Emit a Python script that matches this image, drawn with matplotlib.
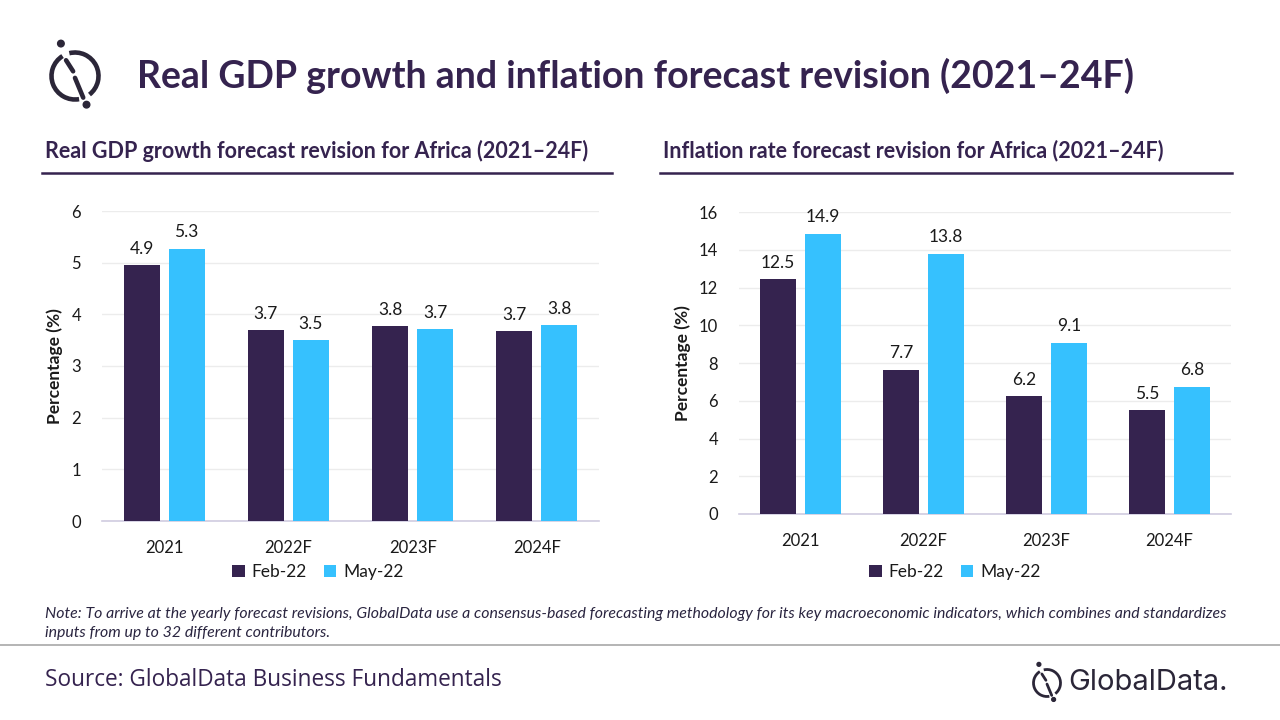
import numpy as np
import matplotlib.pyplot as plt
from matplotlib.patches import Arc, Circle
from matplotlib.lines import Line2D

plt.rcParams['font.family'] = ['Lato', 'DejaVu Sans']

categories = ['2021', '2022F', '2023F', '2024F']
series_names = ['Feb-22', 'May-22']
gdp_feb = [4.95, 3.69, 3.77, 3.67]
gdp_may = [5.27, 3.50, 3.71, 3.79]
gdp_labels_feb = ['4.9', '3.7', '3.8', '3.7']
gdp_labels_may = ['5.3', '3.5', '3.7', '3.8']
inf_feb = [12.45, 7.65, 6.25, 5.5]
inf_may = [14.85, 13.8, 9.07, 6.75]
inf_labels_feb = ['12.5', '7.7', '6.2', '5.5']
inf_labels_may = ['14.9', '13.8', '9.1', '6.8']

PURPLE = '#35234f'
BLUE = '#36c1fe'
TEXT = '#1a1a1a'
W, H = 1280, 720

fig = plt.figure(figsize=(12.8, 7.2), dpi=100)


def px(x0, y0, x1, y1):
    # pixel box (top-left origin) -> figure fraction rect
    return [x0 / W, 1 - y1 / H, (x1 - x0) / W, (y1 - y0) / H]


def fx(x):
    return x / W


def fy(y):
    return 1 - y / H


def bar_panel(rect, feb, may, lab_feb, lab_may, ymax, step, legend_x):
    ax = fig.add_axes(rect)
    x = np.arange(len(categories))
    w = 0.29
    ax.bar(x - 0.181, feb, w, color=PURPLE, label=series_names[0], zorder=3)
    ax.bar(x + 0.181, may, w, color=BLUE, label=series_names[1], zorder=3)
    for xi, v, t in zip(x, feb, lab_feb):
        ax.annotate(t, (xi - 0.181, v), xytext=(0, 6), textcoords='offset points',
                    ha='center', va='bottom', fontsize=12.5, color=TEXT)
    for xi, v, t in zip(x, may, lab_may):
        ax.annotate(t, (xi + 0.181, v), xytext=(0, 6), textcoords='offset points',
                    ha='center', va='bottom', fontsize=12.5, color=TEXT)
    ax.set_xlim(-0.5, len(categories) - 0.5)
    ax.set_ylim(0, ymax)
    ax.set_yticks(np.arange(0, ymax + step / 2, step))
    ax.set_xticks(x)
    ax.set_xticklabels(categories)
    ax.tick_params(axis='both', length=0, labelsize=12, colors=TEXT)
    ax.tick_params(axis='x', pad=14)
    ax.tick_params(axis='y', pad=15)
    ax.grid(axis='y', color='#ececec', linewidth=1, zorder=0)
    for s in ['top', 'right', 'left']:
        ax.spines[s].set_visible(False)
    ax.spines['bottom'].set_color('#d0cce0')
    ax.spines['bottom'].set_linewidth(1.2)
    ax.set_ylabel('Percentage (%)', fontsize=12.5, fontweight='bold', color=TEXT, labelpad=6)
    leg = ax.legend(loc='center', bbox_to_anchor=(fx(legend_x), fy(572)),
                    bbox_transform=fig.transFigure, ncol=2, frameon=False,
                    fontsize=12.5, handlelength=0.7, handleheight=0.7,
                    handletextpad=0.4, columnspacing=1.0)
    for t in leg.get_texts():
        t.set_color(TEXT)
    return ax


bar_panel(px(102, 211, 599, 521), gdp_feb, gdp_may, gdp_labels_feb, gdp_labels_may, 6, 1, 318)
bar_panel(px(739, 212, 1231, 514), inf_feb, inf_may, inf_labels_feb, inf_labels_may, 16, 2, 955)

# headings
fig.text(fx(137), fy(76), 'Real GDP growth and inflation forecast revision (2021\u201324F)',
         fontsize=27, fontweight='bold', color=PURPLE, va='center', ha='left')
fig.text(fx(45), fy(151), 'Real GDP growth forecast revision for Africa (2021\u201324F)',
         fontsize=15.5, fontweight='bold', color=PURPLE, va='center', ha='left')
fig.text(fx(663), fy(151), 'Inflation rate forecast revision for Africa (2021\u201324F)',
         fontsize=15.5, fontweight='bold', color=PURPLE, va='center', ha='left')
fig.add_artist(Line2D([fx(42), fx(612)], [fy(173), fy(173)], color=PURPLE, lw=1.8))
fig.add_artist(Line2D([fx(660), fx(1232)], [fy(173), fy(173)], color=PURPLE, lw=1.8))

# note and source
fig.text(fx(45), fy(614), 'Note: To arrive at the yearly forecast revisions, GlobalData use a consensus-based '
         'forecasting methodology for its key macroeconomic indicators, which combines and standardizes',
         fontsize=11.4, style='italic', color='#2a2540', va='center', ha='left')
fig.text(fx(45), fy(633), 'inputs from up to 32 different contributors.',
         fontsize=11.4, style='italic', color='#2a2540', va='center', ha='left')
fig.add_artist(Line2D([0, 1], [fy(645), fy(645)], color='#a8a8a8', lw=1.2))
fig.text(fx(45), fy(680), 'Source: GlobalData Business Fundamentals',
         fontsize=16.3, color=PURPLE, va='center', ha='left', family=['Open Sans', 'DejaVu Sans'])


def logo(cx, cy, r, lw, dot, color):
    # ring with two gaps, broken diagonal and two dots
    ax = fig.add_axes([0, 0, 1, 1], zorder=5)
    ax.set_xlim(0, W)
    ax.set_ylim(H, 0)
    ax.axis('off')
    ax.patch.set_alpha(0)
    # y axis is flipped, so angles are mirrored: theta -> -theta
    ax.add_patch(Arc((cx, cy), 2 * r, 2 * r, theta1=-104, theta2=52, color=color, lw=lw))
    ax.add_patch(Arc((cx, cy), 2 * r, 2 * r, theta1=80, theta2=238, color=color, lw=lw))
    ax.plot([cx - 0.38 * r, cx - 0.08 * r], [cy - 0.67 * r, cy - 0.2 * r], color=color, lw=lw,
            solid_capstyle='round')
    ax.plot([cx + 0.0 * r, cx + 0.35 * r], [cy + 0.08 * r, cy + 0.92 * r], color=color, lw=lw,
            solid_capstyle='round')
    ax.add_patch(Circle((cx - 0.6 * r, cy - 1.38 * r), dot, color=color))
    ax.add_patch(Circle((cx + 0.49 * r, cy + 1.22 * r), dot, color=color))


logo(75, 76, 23.5, 3.3, 3.3, '#2b2638')
logo(1047, 683, 13.5, 2.0, 1.9, '#2b2638')
fig.text(fx(1068), fy(683), 'GlobalData.', fontsize=21, color='#2b2638', va='center', ha='left',
         family=['Inter', 'DejaVu Sans'])

fig.savefig('out.png', dpi=100)
